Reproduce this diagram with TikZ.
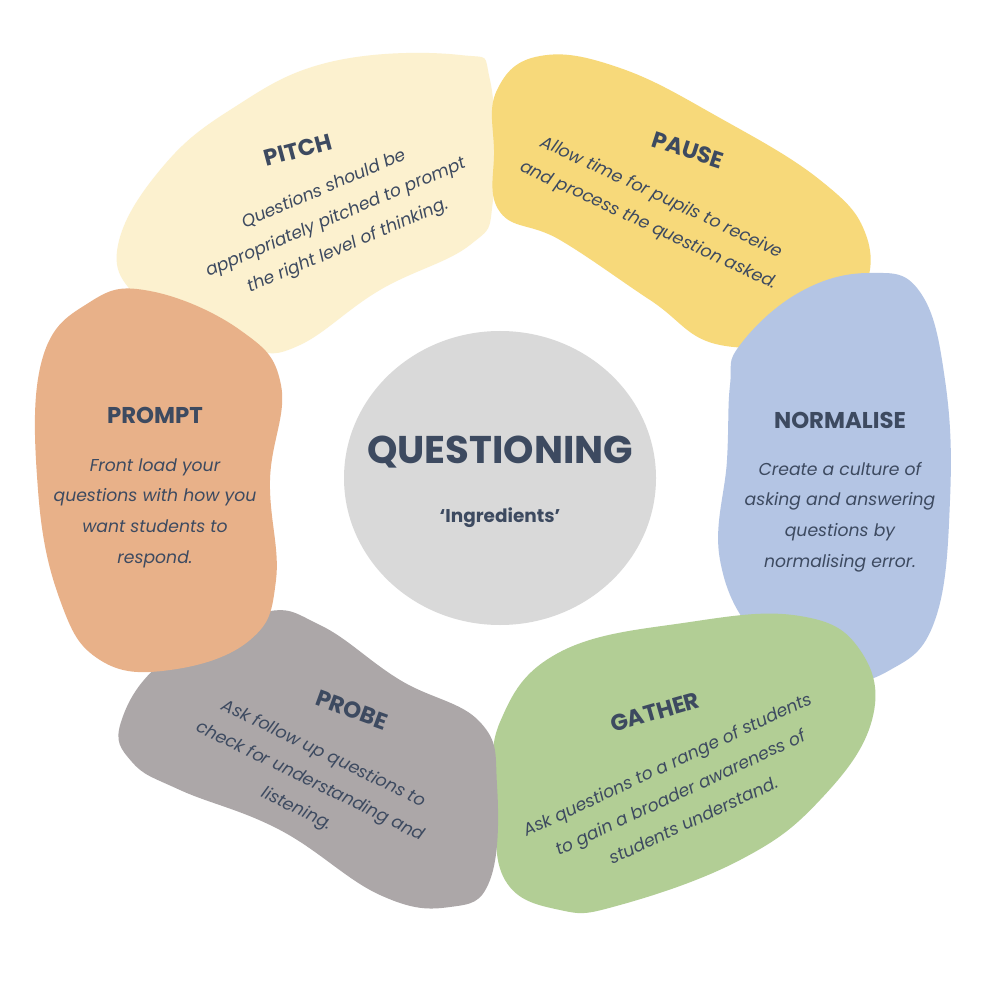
\documentclass[tikz,border=0pt]{standalone}
\usepackage{fontspec}
\setmainfont{Poppins}
\definecolor{txt}{HTML}{3D4A60}
\definecolor{cpitch}{HTML}{FCF1CF}
\definecolor{cpause}{HTML}{F7D97A}
\definecolor{cnorm}{HTML}{B4C5E4}
\definecolor{cgather}{HTML}{B2CE95}
\definecolor{cprobe}{HTML}{ACA7A8}
\definecolor{cprompt}{HTML}{E8B189}
\definecolor{ccenter}{HTML}{D9D9D9}
\begin{document}
\begin{tikzpicture}[x=0.02cm,y=-0.02cm,
  ttl/.style={text=txt,font=\fontsize{13}{15}\selectfont\bfseries},
  bdy/.style={text=txt,font=\fontsize{9.8}{17.5}\selectfont\itshape,align=center}]
\useasboundingbox[fill=white] (0,0) rectangle (983,989);
\fill[cpitch] plot[smooth cycle,tension=0.7] coordinates{(118,245)(160,170)(230,110)(330,62)(460,55)(490,80)(493,200)(470,245)(380,290)(300,345)(250,350)(190,325)(135,295)};
\fill[cpause] plot[smooth cycle,tension=0.7] coordinates{(497,90)(540,56)(620,68)(720,118)(820,180)(866,235)(862,295)(820,335)(720,345)(650,300)(560,240)(500,212)(494,150)};
\fill[cnorm] plot[smooth cycle,tension=0.7] coordinates{(740,345)(800,292)(870,273)(920,292)(945,380)(950,500)(935,620)(890,670)(830,680)(760,640)(720,560)(727,460)(730,385)};
\fill[cgather] plot[smooth cycle,tension=0.7] coordinates{(500,722)(560,652)(690,622)(800,616)(860,650)(872,720)(820,800)(740,860)(620,905)(560,910)(505,880)(496,800)};
\fill[cprobe] plot[smooth cycle,tension=0.7] coordinates{(121,722)(165,660)(260,613)(320,625)(400,680)(480,722)(497,785)(490,880)(450,907)(380,895)(280,830)(180,790)(132,762)};
\fill[cprompt] plot[smooth cycle,tension=0.7] coordinates{(42,360)(90,302)(150,291)(240,330)(281,385)(270,480)(276,580)(250,640)(170,670)(100,660)(60,600)(38,490)};
\fill[ccenter] (500,478) ellipse[x radius=156,y radius=147];
\node[text=txt,font=\fontsize{22}{26}\selectfont\bfseries] (q) at (500,452) {QUESTIONING};
\node[text=txt,font=\fontsize{10.5}{12}\selectfont\bfseries] (qi) at (500,518) {‘Ingredients’};
\node[ttl,rotate=15] (t1) at (298,150) {PITCH};
\node[bdy,rotate=23] (b1) at (336,218) {Questions should be\\appropriately pitched to prompt\\the right level of thinking.};
\node[ttl,rotate=-18] (t2) at (688,150) {PAUSE};
\node[bdy,rotate=-25] (b2) at (655,212) {Allow time for pupils to receive\\and process the question asked.};
\node[ttl] (t3) at (840,420) {NORMALISE};
\node[bdy] (b3) at (840,517) {Create a culture of\\asking and answering\\questions by\\normalising error.};
\node[ttl,rotate=16] (t4) at (655,712) {GATHER};
\node[bdy,rotate=25] (b4) at (680,792) {Ask questions to a range of students\\to gain a broader awareness of\\students understand.};
\node[ttl,rotate=-20] (t5) at (352,710) {PROBE};
\node[bdy,rotate=-26] (b5) at (310,782) {Ask follow up questions to\\check for understanding and\\listening.};
\node[ttl] (t6) at (155,415) {PROMPT};
\node[bdy] (b6) at (155,513) {Front load your\\questions with how you\\want students to\\respond.};
\end{tikzpicture}
\end{document}
